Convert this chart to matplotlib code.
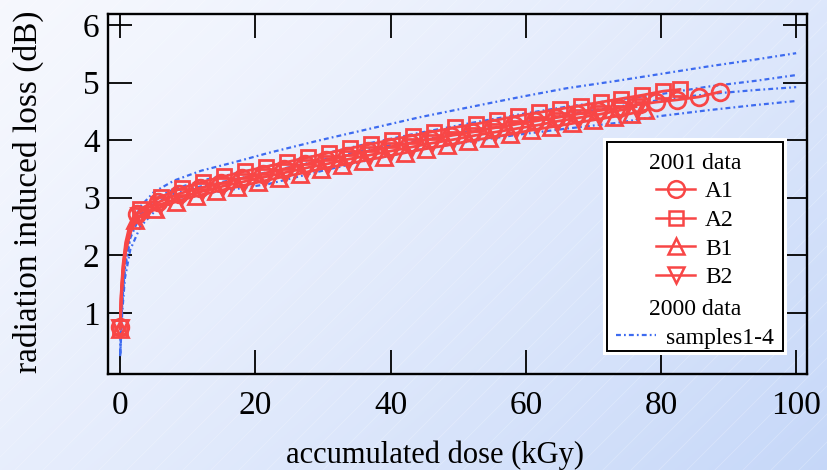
import numpy as np
import matplotlib
matplotlib.use("Agg")
import matplotlib.pyplot as plt
from matplotlib.lines import Line2D
from matplotlib.patches import Rectangle

plt.rcParams["font.family"] = ["Liberation Serif", "DejaVu Serif"]

RED = "#f84646"
BLUE = "#3d6bf0"

# ---- 2001 data (first 5 points: start-up ramp, drawn without markers except at 0)
a1_dose = [0, 0.15, 0.4, 0.8, 1.4, 2.5, 5.6, 8.7, 11.8, 14.9, 18.0, 21.1, 24.2, 27.3,
           30.4, 33.5, 36.6, 39.7, 42.8, 45.9, 49.0, 52.1, 55.2, 58.3, 61.4, 64.5,
           67.6, 70.7, 73.8, 76.9, 79.3, 82.4, 85.6, 88.8]
a1_loss = [0.75, 1.30, 1.75, 2.15, 2.45, 2.72, 2.92, 3.07, 3.17, 3.25, 3.34, 3.42,
           3.50, 3.58, 3.66, 3.73, 3.81, 3.88, 3.95, 4.02, 4.08, 4.14, 4.21, 4.27,
           4.33, 4.39, 4.45, 4.51, 4.56, 4.62, 4.66, 4.70, 4.75, 4.84]

a2_dose = [0, 0.15, 0.4, 0.8, 1.4, 3.0, 6.1, 9.2, 12.3, 15.4, 18.5, 21.6, 24.7, 27.8,
           30.9, 34.0, 37.1, 40.2, 43.3, 46.4, 49.5, 52.6, 55.7, 58.8, 61.9, 65.0,
           68.1, 71.1, 74.1, 77.2, 80.3, 82.8]
a2_loss = [0.76, 1.35, 1.82, 2.22, 2.52, 2.80, 3.02, 3.17, 3.28, 3.37, 3.46, 3.54,
           3.62, 3.70, 3.78, 3.86, 3.93, 4.01, 4.08, 4.15, 4.22, 4.28, 4.35, 4.42,
           4.48, 4.54, 4.60, 4.66, 4.72, 4.78, 4.85, 4.88]

b1_dose = [0, 0.15, 0.4, 0.8, 1.4, 2.2, 5.2, 8.2, 11.2, 14.2, 17.3, 20.4, 23.5, 26.6,
           29.7, 32.8, 35.9, 39.0, 42.1, 45.2, 48.3, 51.4, 54.5, 57.6, 60.7, 63.8,
           66.9, 70.0, 73.1, 75.5, 77.7]
b1_loss = [0.72, 1.22, 1.65, 2.05, 2.35, 2.62, 2.80, 2.93, 3.03, 3.11, 3.19, 3.27,
           3.35, 3.42, 3.50, 3.57, 3.64, 3.71, 3.78, 3.85, 3.91, 3.98, 4.04, 4.10,
           4.17, 4.23, 4.29, 4.35, 4.41, 4.46, 4.52]

b2_dose = [0, 0.15, 0.4, 0.8, 1.4, 2.8, 5.9, 9.0, 12.1, 15.2, 18.3, 21.4, 24.5, 27.6,
           30.7, 33.8, 36.9, 40.0, 43.1, 46.2, 49.3, 52.4, 55.5, 58.6, 61.7, 64.8,
           67.9, 71.0, 74.0, 76.3]
b2_loss = [0.74, 1.27, 1.70, 2.10, 2.40, 2.68, 2.88, 3.01, 3.11, 3.20, 3.28, 3.36,
           3.44, 3.52, 3.59, 3.67, 3.74, 3.81, 3.88, 3.95, 4.01, 4.08, 4.14, 4.20,
           4.26, 4.33, 4.39, 4.45, 4.52, 4.58]

# ---- 2000 data, samples 1-4
s_dose = [0, 0.3, 0.7, 1.5, 3, 5, 8, 12, 17, 22, 29.6, 37, 44.4, 52, 59.2, 66,
          73.5, 80, 87, 94, 100]
s1_loss = [0.30, 1.30, 1.90, 2.45, 2.85, 3.10, 3.30, 3.47, 3.62, 3.78, 4.00, 4.20,
           4.40, 4.58, 4.75, 4.90, 5.03, 5.15, 5.28, 5.40, 5.51]
s2_loss = [0.30, 1.20, 1.80, 2.35, 2.75, 2.98, 3.15, 3.30, 3.42, 3.55, 3.75, 3.95,
           4.13, 4.30, 4.45, 4.58, 4.70, 4.80, 4.93, 5.03, 5.13]
s3_loss = [0.28, 1.15, 1.75, 2.30, 2.70, 2.90, 3.07, 3.20, 3.32, 3.45, 3.65, 3.85,
           4.00, 4.16, 4.30, 4.45, 4.58, 4.70, 4.80, 4.87, 4.92]
s4_loss = [0.25, 1.00, 1.60, 2.10, 2.50, 2.75, 2.93, 3.06, 3.15, 3.24, 3.46, 3.66,
           3.84, 3.98, 4.10, 4.20, 4.30, 4.42, 4.52, 4.61, 4.68]

series_2001 = [("A1", a1_dose, a1_loss, "o", 12),
               ("A2", a2_dose, a2_loss, "s", 10),
               ("B1", b1_dose, b1_loss, "^", 11),
               ("B2", b2_dose, b2_loss, "v", 11)]
samples_2000 = [s1_loss, s2_loss, s3_loss, s4_loss]

W, H = 827, 470
fig = plt.figure(figsize=(W / 100, H / 100), dpi=100)

# background: soft diagonal gradient with faint hatch lines
bg = fig.add_axes([0, 0, 1, 1], zorder=-5)
xx, yy = np.meshgrid(np.linspace(0, 1, 300), np.linspace(0, 1, 200))
t = (0.6 * xx + 0.4 * yy) ** 1.3
c0 = np.array([0.965, 0.972, 0.996])
c1 = np.array([0.775, 0.845, 0.975])
img = c0 + (c1 - c0) * t[..., None]
bg.imshow(img, extent=[0, W, H, 0], aspect="auto")
for c in range(-W, H + W, 28):
    bg.plot([0, W], [H - c, H - c - W], color="white", lw=0.6, alpha=0.25)
bg.set_xlim(0, W)
bg.set_ylim(H, 0)
bg.axis("off")

ax = fig.add_axes([108 / W, 1 - 374 / H, (807 - 108) / W, (374 - 14) / H])
ax.patch.set_alpha(0)

dash = (0, (2.2, 1.4, 0.8, 1.4))
for loss in samples_2000:
    ax.plot(s_dose, loss, color=BLUE, lw=1.6, linestyle=dash, zorder=2)

for name, d, v, m, ms in series_2001:
    ax.plot(d, v, color=RED, lw=2.0, marker=m, ms=ms, mfc="none", mec=RED, mew=2.0,
            markevery=[0] + list(range(5, len(d))), zorder=3)

ax.set_xlim(-1.8, 101.6)
ax.set_ylim(-0.06, 6.19)
ax.set_xticks([0, 20, 40, 60, 80, 100])
ax.set_yticks([1, 2, 3, 4, 5, 6])
ax.tick_params(direction="in", length=17, width=1.3, top=True, right=True,
               labelsize=24, colors="black")
ax.tick_params(axis="x", pad=12)
ax.tick_params(axis="y", pad=6)
for s in ax.spines.values():
    s.set_linewidth(1.7)

ax.set_xlabel("accumulated dose (kGy)", fontsize=22)
ax.set_ylabel("radiation induced loss (dB)", fontsize=24)
ax.xaxis.set_label_coords(0.468, -0.185)
ax.yaxis.set_label_coords(-0.092, 0.506)

# legend box
ax.add_patch(Rectangle((0.708, 0.052), 0.264, 0.603, transform=ax.transAxes,
                       facecolor="white", edgecolor="none", zorder=5))
ax.add_patch(Rectangle((0.714, 0.064), 0.252, 0.58, transform=ax.transAxes,
                       facecolor="white", edgecolor="black", lw=1.4, zorder=5))

h1 = [Line2D([], [], color=RED, lw=1.8, marker=m, ms=ms, mfc="none", mec=RED, mew=1.8)
      for _, _, _, m, ms in series_2001]
leg1 = ax.legend(h1, [s[0] for s in series_2001], title="2001 data", loc="upper center",
                 bbox_to_anchor=(0.84, 0.647), frameon=False, fontsize=17,
                 title_fontsize=17, handlelength=1.65, handletextpad=0.42,
                 labelspacing=0.3, borderpad=0)
leg1.set_zorder(6)
ax.add_artist(leg1)
h2 = [Line2D([], [], color=BLUE, lw=1.6, linestyle=dash)]
leg2 = ax.legend(h2, ["samples1-4"], title="2000 data", loc="upper center",
                 bbox_to_anchor=(0.84, 0.241), frameon=False, fontsize=17,
                 title_fontsize=17, handlelength=1.7, handletextpad=0.42,
                 labelspacing=0.3, borderpad=0)
leg2.set_zorder(6)

fig.savefig("out.png", dpi=100)
